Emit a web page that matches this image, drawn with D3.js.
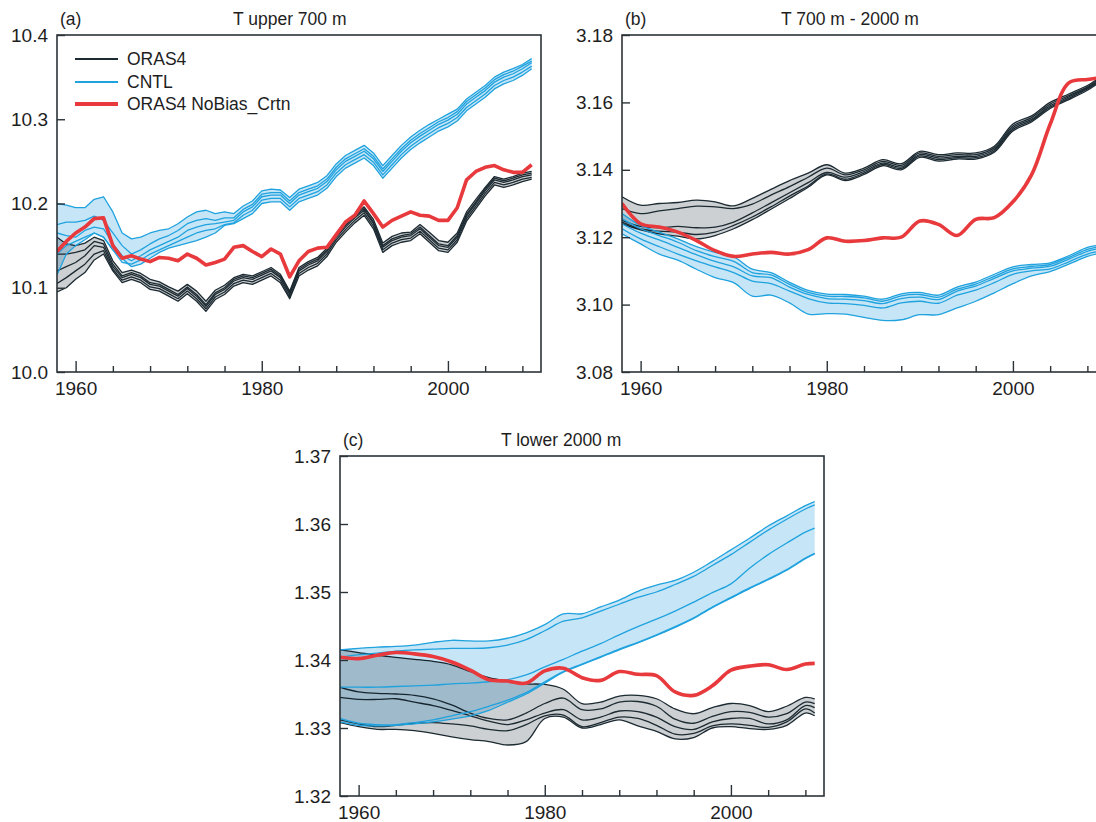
<!DOCTYPE html>
<html><head><meta charset="utf-8">
<script src="https://cdn.jsdelivr.net/npm/d3@7"></script>
<style>
body{margin:0;background:#fff;}
svg{display:block;font-family:"Liberation Sans",Arial,Helvetica,sans-serif;}
</style></head><body>
<svg id="chart" width="1096" height="822"></svg>
<script>
// ---------------- DATA ----------------
const yearsA = d3.range(1958, 2010);               // annual, panel (a)
const yearsBC = [...d3.range(1958, 2009, 2), 2009]; // biennial, panels (b),(c)

const xTicksMinor = [1964, 1968, 1972, 1976, 1984, 1988, 1992, 1996, 2004, 2008];
const xTicksMajor = [1960, 1980, 2000];
const yTicksA = [10.0, 10.1, 10.2, 10.3, 10.4];
const yTicksB = [3.08, 3.10, 3.12, 3.14, 3.16, 3.18];
const yTicksC = [1.32, 1.33, 1.34, 1.35, 1.36, 1.37];

const legendLabels = ["ORAS4", "CNTL", "ORAS4 NoBias_Crtn"];
const panelTitles = ["T upper 700 m", "T 700 m - 2000 m", "T lower 2000 m"];
const panelLabels = ["(a)", "(b)", "(c)"];

// Panel (a): T upper 700 m
const aRed = [10.143,10.155,10.165,10.172,10.182,10.183,10.150,10.135,10.138,10.134,
  10.131,10.136,10.135,10.132,10.140,10.135,10.127,10.130,10.134,10.148,
  10.150,10.143,10.137,10.146,10.140,10.113,10.132,10.143,10.147,10.148,
  10.163,10.178,10.186,10.203,10.188,10.172,10.180,10.185,10.190,10.186,
  10.185,10.180,10.180,10.195,10.228,10.238,10.243,10.245,10.240,10.237,
  10.237,10.246];
const aOras1 = [10.160,10.152,10.150,10.153,10.160,10.156,10.132,
  10.118,10.121,10.117,10.110,10.107,10.101,10.096,10.104,10.096,10.084,10.097,10.103,10.112,10.116,10.114,
  10.119,10.124,10.116,10.096,10.124,10.131,10.136,10.147,10.164,10.176,10.187,10.196,10.181,10.153,10.161,
  10.165,10.166,10.175,10.166,10.156,10.154,10.165,10.190,10.205,10.219,10.232,10.229,10.232,10.236,10.238];
const aOras2 = [10.140,10.140,10.142,10.145,10.155,10.152,10.128,
  10.114,10.118,10.114,10.106,10.104,10.098,10.092,10.101,10.092,10.080,10.094,10.100,10.110,10.114,10.112,
  10.117,10.122,10.114,10.094,10.122,10.129,10.134,10.145,10.162,10.174,10.185,10.194,10.178,10.150,10.158,
  10.162,10.164,10.172,10.162,10.152,10.150,10.162,10.187,10.202,10.217,10.230,10.227,10.230,10.234,10.236];
const aOras3 = [10.120,10.125,10.130,10.138,10.150,10.148,10.125,
  10.112,10.116,10.112,10.104,10.102,10.096,10.090,10.099,10.090,10.078,10.092,10.098,10.108,10.112,10.110,
  10.115,10.120,10.112,10.092,10.120,10.127,10.132,10.143,10.160,10.172,10.183,10.192,10.176,10.148,10.156,
  10.160,10.162,10.170,10.160,10.150,10.148,10.160,10.185,10.200,10.215,10.228,10.225,10.228,10.232,10.234];
const aOras4 = [10.105,10.112,10.120,10.128,10.140,10.144,10.122,
  10.109,10.113,10.109,10.101,10.099,10.093,10.087,10.096,10.087,10.075,10.089,10.095,10.105,10.109,10.107,
  10.112,10.117,10.109,10.089,10.117,10.124,10.129,10.140,10.157,10.169,10.180,10.189,10.173,10.145,10.153,
  10.157,10.159,10.167,10.157,10.147,10.145,10.157,10.182,10.197,10.212,10.225,10.222,10.225,10.229,10.231];
const aOras5 = [10.095,10.100,10.110,10.118,10.133,10.140,10.120,
  10.106,10.110,10.106,10.098,10.096,10.090,10.084,10.093,10.084,10.072,10.086,10.092,10.102,10.106,10.104,
  10.109,10.114,10.106,10.087,10.114,10.121,10.126,10.137,10.154,10.166,10.177,10.186,10.170,10.142,10.150,
  10.154,10.156,10.164,10.154,10.144,10.142,10.154,10.179,10.194,10.209,10.222,10.219,10.222,10.226,10.229];
const aCntl1 = [10.200,10.198,10.195,10.195,10.205,10.208,10.190,10.165,10.158,10.160,10.165,10.168,10.170,10.176,10.184,10.190,10.192,10.188,10.190,
  10.188,10.197,10.203,10.215,10.217,10.216,10.207,10.217,10.221,10.225,10.233,10.247,10.257,10.263,10.269,10.260,10.245,
  10.257,10.269,10.279,10.287,10.294,10.300,10.306,10.312,10.324,10.332,10.340,10.350,10.356,10.360,10.365,10.372];
const aCntl2 = [10.175,10.178,10.178,10.180,10.185,10.180,10.165,10.150,10.140,10.145,10.152,10.158,10.162,10.168,10.176,10.180,10.182,10.180,10.183,
  10.183,10.193,10.199,10.211,10.213,10.213,10.203,10.213,10.217,10.221,10.229,10.243,10.253,10.259,10.265,10.256,10.241,
  10.253,10.265,10.275,10.283,10.290,10.297,10.302,10.309,10.321,10.329,10.337,10.347,10.353,10.357,10.363,10.369];
const aCntl3 = [10.165,10.162,10.160,10.168,10.172,10.170,10.152,10.138,10.132,10.138,10.145,10.150,10.155,10.160,10.168,10.172,10.175,10.176,10.178,
  10.180,10.190,10.196,10.208,10.210,10.210,10.200,10.210,10.214,10.218,10.226,10.240,10.250,10.256,10.262,10.253,10.238,
  10.250,10.262,10.272,10.280,10.287,10.294,10.299,10.306,10.318,10.326,10.334,10.344,10.350,10.354,10.360,10.367];
const aCntl4 = [10.140,10.150,10.155,10.160,10.165,10.160,10.145,10.130,10.128,10.133,10.140,10.145,10.150,10.155,10.160,10.165,10.168,10.170,10.175,
  10.177,10.186,10.192,10.204,10.206,10.206,10.196,10.206,10.210,10.214,10.222,10.236,10.246,10.252,10.258,10.249,10.234,
  10.246,10.258,10.268,10.276,10.283,10.290,10.295,10.302,10.314,10.322,10.330,10.340,10.346,10.350,10.356,10.363];
const aCntl5 = [10.115,10.140,10.150,10.157,10.165,10.160,10.145,10.135,10.125,10.128,10.135,10.142,10.147,10.150,10.153,10.156,10.160,10.165,10.174,
  10.176,10.182,10.188,10.200,10.202,10.202,10.192,10.202,10.206,10.210,10.218,10.232,10.242,10.248,10.254,10.245,10.230,
  10.242,10.254,10.264,10.272,10.279,10.286,10.291,10.298,10.310,10.318,10.326,10.336,10.342,10.346,10.352,10.360];

// Panel (b): T 700 m - 2000 m (biennial)
const bRed = [3.1300,3.1240,3.1230,3.1215,3.1190,3.1160,3.1143,3.1150,3.1155,3.1150,3.1163,3.1198,3.1188,
  3.1190,3.1198,3.1200,3.1248,3.1238,3.1205,3.1253,3.1258,3.1305,3.1385,3.1535,3.1658,3.1668,3.1672];
const bOras1 = [3.1320,3.1295,3.1300,3.1303,3.1310,3.1305,3.1293,3.1315,3.1342,3.1368,3.1390,3.1415,3.1390,
  3.1405,3.1430,3.1418,3.1455,3.1445,3.1450,3.1450,3.1470,3.1536,3.1560,3.1600,3.1625,3.1650,3.1668];
const bOras2 = [3.1285,3.1270,3.1278,3.1285,3.1292,3.1290,3.1285,3.1298,3.1325,3.1350,3.1378,3.1405,3.1385,
  3.1400,3.1425,3.1413,3.1450,3.1440,3.1445,3.1445,3.1465,3.1530,3.1555,3.1595,3.1620,3.1646,3.1664];
const bOras3 = [3.1250,3.1232,3.1228,3.1232,3.1228,3.1230,3.1245,3.1272,3.1302,3.1332,3.1362,3.1392,3.1378,
  3.1395,3.1420,3.1408,3.1445,3.1435,3.1440,3.1440,3.1460,3.1525,3.1550,3.1590,3.1616,3.1643,3.1660];
const bOras4 = [3.1245,3.1225,3.1218,3.1215,3.1208,3.1215,3.1235,3.1260,3.1290,3.1322,3.1352,3.1388,3.1372,
  3.1390,3.1416,3.1404,3.1441,3.1430,3.1436,3.1436,3.1456,3.1520,3.1546,3.1586,3.1612,3.1640,3.1657];
const bOras5 = [3.1240,3.1222,3.1210,3.1203,3.1195,3.1205,3.1225,3.1252,3.1283,3.1315,3.1348,3.1385,3.1368,
  3.1386,3.1412,3.1400,3.1437,3.1426,3.1432,3.1432,3.1452,3.1515,3.1542,3.1582,3.1608,3.1636,3.1654];
const bCntl1 = [3.1270,3.1235,3.1215,3.1195,3.1172,3.1155,3.1142,3.1105,3.1095,3.1066,3.1042,3.1031,3.1030,
  3.1025,3.1016,3.1032,3.1036,3.1028,3.1052,3.1067,3.1090,3.1112,3.1119,3.1124,3.1145,3.1170,3.1175];
const bCntl2 = [3.1255,3.1225,3.1205,3.1185,3.1160,3.1142,3.1128,3.1095,3.1088,3.1060,3.1036,3.1025,3.1024,
  3.1020,3.1010,3.1026,3.1030,3.1022,3.1046,3.1061,3.1084,3.1106,3.1113,3.1119,3.1140,3.1164,3.1170];
const bCntl3 = [3.1240,3.1212,3.1192,3.1170,3.1148,3.1128,3.1112,3.1085,3.1080,3.1052,3.1030,3.1018,3.1016,
  3.1012,3.1003,3.1018,3.1022,3.1015,3.1040,3.1055,3.1078,3.1100,3.1108,3.1114,3.1135,3.1158,3.1165];
const bCntl4 = [3.1225,3.1195,3.1172,3.1150,3.1130,3.1112,3.1095,3.1070,3.1062,3.1040,3.1018,3.1005,3.1003,
  3.0998,3.0990,3.1005,3.1010,3.1004,3.1028,3.1043,3.1065,3.1090,3.1100,3.1106,3.1127,3.1150,3.1157];
const bCntl5 = [3.1210,3.1180,3.1150,3.1132,3.1105,3.1080,3.1065,3.1025,3.1028,3.1005,3.0972,3.0973,3.0972,
  3.0962,3.0953,3.0955,3.0970,3.0970,3.0990,3.1010,3.1035,3.1062,3.1085,3.1098,3.1120,3.1143,3.1150];

// Panel (c): T lower 2000 m (biennial)
const cRed = [1.3404,1.3402,1.3407,1.3411,1.3409,1.3405,1.3397,1.3385,1.3371,1.3369,1.3366,1.3384,1.3388,
  1.3374,1.3370,1.3383,1.3379,1.3377,1.3353,1.3348,1.3362,1.3385,1.3391,1.3393,1.3386,1.3394,1.3395];
const cOras1 = [1.3415,1.3411,1.3407,1.3404,1.3401,1.3398,1.3393,1.3383,1.3374,1.3369,1.3365,1.3364,1.3357,
  1.3336,1.3338,1.3347,1.3348,1.3343,1.3328,1.3321,1.3330,1.3336,1.3333,1.3324,1.3332,1.3345,1.3343];
const cOras2 = [1.3360,1.3353,1.3351,1.3350,1.3348,1.3343,1.3334,1.3322,1.3314,1.3312,1.3322,1.3336,1.3344,
  1.3327,1.3328,1.3338,1.3339,1.3332,1.3313,1.3307,1.3317,1.3324,1.3323,1.3316,1.3321,1.3338,1.3336];
const cOras3 = [1.3345,1.3342,1.3342,1.3343,1.3338,1.3333,1.3326,1.3318,1.3310,1.3305,1.3312,1.3322,1.3327,
  1.3312,1.3316,1.3325,1.3324,1.3316,1.3302,1.3298,1.3309,1.3314,1.3314,1.3306,1.3312,1.3333,1.3330];
const cOras4 = [1.3312,1.3306,1.3302,1.3304,1.3307,1.3308,1.3306,1.3303,1.3298,1.3296,1.3305,1.3318,1.3319,
  1.3302,1.3308,1.3316,1.3314,1.3304,1.3291,1.3292,1.3303,1.3306,1.3304,1.3301,1.3309,1.3328,1.3322];
const cOras5 = [1.3308,1.3302,1.3298,1.3298,1.3296,1.3292,1.3287,1.3283,1.3280,1.3275,1.3280,1.3314,1.3316,
  1.3300,1.3305,1.3312,1.3303,1.3295,1.3284,1.3286,1.3300,1.3302,1.3299,1.3298,1.3304,1.3322,1.3318];
const cCntl1 = [1.3415,1.3417,1.3419,1.3420,1.3422,1.3426,1.3429,1.3428,1.3428,1.3432,1.3440,1.3452,1.3468,
  1.3468,1.3478,1.3488,1.3501,1.3510,1.3517,1.3529,1.3545,1.3562,1.3579,1.3597,1.3612,1.3627,1.3633];
const cCntl2 = [1.3404,1.3408,1.3410,1.3413,1.3415,1.3416,1.3417,1.3417,1.3418,1.3422,1.3430,1.3443,1.3457,
  1.3462,1.3472,1.3482,1.3492,1.3500,1.3511,1.3523,1.3539,1.3555,1.3573,1.3591,1.3607,1.3622,1.3628];
const cCntl3 = [1.3360,1.3360,1.3360,1.3361,1.3362,1.3363,1.3365,1.3366,1.3368,1.3371,1.3378,1.3390,1.3401,
  1.3413,1.3424,1.3437,1.3449,1.3460,1.3472,1.3485,1.3499,1.3512,1.3535,1.3555,1.3572,1.3588,1.3594];
const cCntl4 = [1.3309,1.3304,1.3303,1.3304,1.3306,1.3309,1.3313,1.3318,1.3326,1.3338,1.3350,1.3366,1.3382,
  1.3393,1.3404,1.3415,1.3425,1.3436,1.3448,1.3461,1.3477,1.3491,1.3505,1.3518,1.3532,1.3549,1.3556];
const cCntl5 = [1.3314,1.3307,1.3305,1.3305,1.3308,1.3312,1.3318,1.3324,1.3332,1.3341,1.3352,1.3368,1.3383,
  1.3394,1.3405,1.3416,1.3426,1.3437,1.3449,1.3462,1.3478,1.3492,1.3506,1.3519,1.3533,1.3550,1.3557];

// ---------------- DRAWING ----------------
const COL = {black:"#1c2a32", gray:"#cdd0d2", blue:"#1fa2de", lblue:"#c6e6f7",
             red:"#e8393c", axis:"#2b3338", text:"#1e1e1e"};
const svg = d3.select("#chart");
svg.append("rect").attr("width",1096).attr("height",822).attr("fill","#fff");

function panel(cfg){
  const {x0,x1,yTop,yBot,ydom,yticks,yfmt,years,black,blue,red,idx,titleX,curve} = cfg;
  const x = d3.scaleLinear().domain([1958,2010]).range([x0,x1]);
  const y = d3.scaleLinear().domain(ydom).range([yBot,yTop]);
  const clipId = "clip" + idx;
  svg.append("clipPath").attr("id",clipId).append("rect")
    .attr("x",x0).attr("y",yTop).attr("width",x1-x0).attr("height",yBot-yTop);
  const plot = svg.append("g").attr("clip-path",`url(#${clipId})`);
  const band = members => years.map((yr,i)=>({yr, lo:d3.min(members,m=>m[i]), hi:d3.max(members,m=>m[i])}));
  const area = d3.area().x(d=>x(d.yr)).y0(d=>y(d.lo)).y1(d=>y(d.hi)).curve(curve);
  const line = d3.line().x((d,i)=>x(years[i])).y(d=>y(d)).curve(curve);

  plot.append("path").attr("d",area(band(black))).attr("fill",COL.gray);
  black.forEach(m=>plot.append("path").attr("d",line(m)).attr("fill","none")
    .attr("stroke",COL.black).attr("stroke-width",1.3).attr("stroke-linejoin","round"));
  plot.append("path").attr("d",area(band(blue))).attr("fill",COL.lblue).style("mix-blend-mode","multiply");
  blue.forEach(m=>plot.append("path").attr("d",line(m)).attr("fill","none")
    .attr("stroke",COL.blue).attr("stroke-width",1.3).attr("stroke-linejoin","round"));
  plot.append("path").attr("d",line(red)).attr("fill","none")
    .attr("stroke",COL.red).attr("stroke-width",3.6).attr("stroke-linejoin","round");

  // axes
  const styleAxis = g => {
    g.attr("font-size",19).attr("font-family",null).attr("color",COL.axis);
    g.select(".domain").remove();
    g.selectAll(".tick line").attr("stroke-width",1.4);
    g.selectAll("text").attr("fill",COL.text);
  };
  svg.append("g").attr("transform",`translate(0,${yBot})`)
    .call(d3.axisBottom(x).tickValues(xTicksMinor).tickSize(-6).tickFormat(""))
    .call(styleAxis);
  svg.append("g").attr("transform",`translate(0,${yBot})`)
    .call(d3.axisBottom(x).tickValues(xTicksMajor).tickSize(-11).tickPadding(10).tickFormat(d3.format("d")))
    .call(styleAxis);
  svg.append("g").attr("transform",`translate(${x0},0)`)
    .call(d3.axisLeft(y).tickValues(yticks).tickSize(-8).tickPadding(9).tickFormat(d3.format(yfmt)))
    .call(styleAxis);
  svg.append("rect").attr("x",x0).attr("y",yTop).attr("width",x1-x0).attr("height",yBot-yTop)
    .attr("fill","none").attr("stroke",COL.axis).attr("stroke-width",1.6);

  svg.append("text").attr("x",x0+3).attr("y",yTop-10).attr("font-size",17.5).attr("fill",COL.text)
    .text(panelLabels[idx]);
  svg.append("text").attr("x",titleX).attr("y",yTop-10).attr("font-size",17.5).attr("fill",COL.text)
    .text(panelTitles[idx]);
  return {x,y};
}

panel({x0:57,x1:541,yTop:35,yBot:372,ydom:[10.0,10.4],yticks:yTicksA,yfmt:".1f",years:yearsA,
  black:[aOras1,aOras2,aOras3,aOras4,aOras5],blue:[aCntl1,aCntl2,aCntl3,aCntl4,aCntl5],red:aRed,
  idx:0,titleX:233,curve:d3.curveLinear});
panel({x0:622,x1:1106,yTop:35,yBot:372,ydom:[3.08,3.18],yticks:yTicksB,yfmt:".2f",years:yearsBC,
  black:[bOras1,bOras2,bOras3,bOras4,bOras5],blue:[bCntl1,bCntl2,bCntl3,bCntl4,bCntl5],red:bRed,
  idx:1,titleX:781,curve:d3.curveCatmullRom});
panel({x0:340,x1:824,yTop:456,yBot:796,ydom:[1.32,1.37],yticks:yTicksC,yfmt:".2f",years:yearsBC,
  black:[cOras1,cOras2,cOras3,cOras4,cOras5],blue:[cCntl1,cCntl2,cCntl3,cCntl4,cCntl5],red:cRed,
  idx:2,titleX:501,curve:d3.curveCatmullRom});

// legend (panel a)
const legColors = [COL.black, COL.blue, COL.red];
const legWidths = [2.2, 2.2, 4];
const legY = [59, 82, 104];
legendLabels.forEach((t,i)=>{
  svg.append("line").attr("x1",75).attr("x2",118).attr("y1",legY[i]).attr("y2",legY[i])
    .attr("stroke",legColors[i]).attr("stroke-width",legWidths[i]);
  svg.append("text").attr("x",127).attr("y",legY[i]).attr("dy","0.35em").attr("font-size",17.5)
    .attr("fill",COL.text).text(t);
});
</script>
</body></html>
